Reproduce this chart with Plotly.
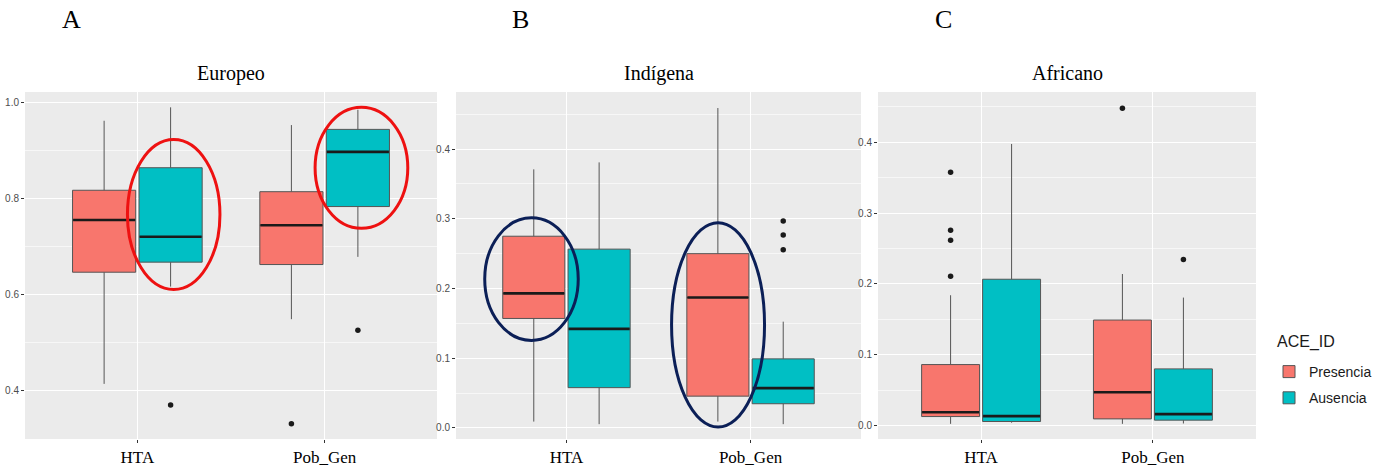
import plotly.graph_objects as go

categories = ["HTA", "Pob_Gen"]
groups = ["Presencia", "Ausencia"]
panel_titles = ["Europeo", "Indígena", "Africano"]
panel_letters = ["A", "B", "C"]
legend_title = "ACE_ID"

# ---- Europeo (A) ----
eur_pre_low = [0.413, 0.548]
eur_pre_q1 = [0.646, 0.662]
eur_pre_med = [0.755, 0.744]
eur_pre_q3 = [0.817, 0.814]
eur_pre_high = [0.962, 0.953]
eur_aus_low = [0.616, 0.678]
eur_aus_q1 = [0.667, 0.783]
eur_aus_med = [0.720, 0.897]
eur_aus_q3 = [0.864, 0.944]
eur_aus_high = [0.990, 0.985]
eur_out_pre_x = ["Pob_Gen"]
eur_out_pre_y = [0.330]
eur_out_aus_x = ["HTA", "Pob_Gen"]
eur_out_aus_y = [0.369, 0.525]

# ---- Indígena (B) ----
ind_pre_low = [0.009, 0.009]
ind_pre_q1 = [0.157, 0.0455]
ind_pre_med = [0.193, 0.187]
ind_pre_q3 = [0.275, 0.250]
ind_pre_high = [0.371, 0.459]
ind_aus_low = [0.0053, 0.0053]
ind_aus_q1 = [0.0577, 0.0346]
ind_aus_med = [0.142, 0.057]
ind_aus_q3 = [0.2565, 0.099]
ind_aus_high = [0.381, 0.1524]
ind_out_pre_x = []
ind_out_pre_y = []
ind_out_aus_x = ["Pob_Gen", "Pob_Gen", "Pob_Gen"]
ind_out_aus_y = [0.2967, 0.2766, 0.2555]

# ---- Africano (C) ----
afr_pre_low = [0.0024, 0.0024]
afr_pre_q1 = [0.0127, 0.0094]
afr_pre_med = [0.0187, 0.0471]
afr_pre_q3 = [0.0861, 0.149]
afr_pre_high = [0.184, 0.214]
afr_aus_low = [0.004, 0.0029]
afr_aus_q1 = [0.0057, 0.0076]
afr_aus_med = [0.0133, 0.0161]
afr_aus_q3 = [0.2066, 0.080]
afr_aus_high = [0.3976, 0.1807]
afr_out_pre_x = ["HTA", "HTA", "HTA", "HTA", "Pob_Gen"]
afr_out_pre_y = [0.3577, 0.2758, 0.2617, 0.2109, 0.448]
afr_out_aus_x = ["Pob_Gen"]
afr_out_aus_y = [0.2343]

# Highlight ellipses (category index / data units)
eur_ell_x0 = [-0.053, 0.949]
eur_ell_x1 = [0.441, 1.444]
eur_ell_y0 = [0.610, 0.7375]
eur_ell_y1 = [0.923, 0.990]
ind_ell_x0 = [-0.444, 0.571]
ind_ell_x1 = [0.064, 1.076]
ind_ell_y0 = [0.1255, 0.0011]
ind_ell_y1 = [0.3014, 0.2943]

colors = {"Presencia": "#F8766D", "Ausencia": "#00BFC4"}

panels = [
    dict(pre=(eur_pre_low, eur_pre_q1, eur_pre_med, eur_pre_q3, eur_pre_high),
         aus=(eur_aus_low, eur_aus_q1, eur_aus_med, eur_aus_q3, eur_aus_high),
         out_pre=(eur_out_pre_x, eur_out_pre_y), out_aus=(eur_out_aus_x, eur_out_aus_y),
         yrange=[0.298, 1.022], dtick=0.2, minor=0.1, domain=[25, 437], medw=62),
    dict(pre=(ind_pre_low, ind_pre_q1, ind_pre_med, ind_pre_q3, ind_pre_high),
         aus=(ind_aus_low, ind_aus_q1, ind_aus_med, ind_aus_q3, ind_aus_high),
         out_pre=(ind_out_pre_x, ind_out_pre_y), out_aus=(ind_out_aus_x, ind_out_aus_y),
         yrange=[-0.016, 0.482], dtick=0.1, minor=0.05, domain=[456, 861], medw=61),
    dict(pre=(afr_pre_low, afr_pre_q1, afr_pre_med, afr_pre_q3, afr_pre_high),
         aus=(afr_aus_low, afr_aus_q1, afr_aus_med, afr_aus_q3, afr_aus_high),
         out_pre=(afr_out_pre_x, afr_out_pre_y), out_aus=(afr_out_aus_x, afr_out_aus_y),
         yrange=[-0.019, 0.471], dtick=0.1, minor=0.05, domain=[878, 1256], medw=57),
]

W, H = 1385, 470
fig = go.Figure()
layout = {}
annotations = []
shapes = []

for i, p in enumerate(panels):
    sfx = "" if i == 0 else str(i + 1)
    xa, ya = "x" + sfx, "y" + sfx
    for g, key in (("Presencia", "pre"), ("Ausencia", "aus")):
        lo, q1, med, q3, hi = p[key]
        fig.add_trace(go.Box(
            x=categories, q1=q1, median=med, q3=q3, lowerfence=lo, upperfence=hi,
            name=g, legendgroup=g, showlegend=(i == 0), offsetgroup=g,
            fillcolor=colors[g], line=dict(color="#555555", width=1),
            whiskerwidth=0, boxpoints=False, xaxis=xa, yaxis=ya, hoverinfo="skip"))
    for g, key in (("Presencia", "pre"), ("Ausencia", "aus")):
        med = p[key][2]
        fig.add_trace(go.Scatter(
            x=categories, y=med, mode="markers", offsetgroup=g, showlegend=False,
            marker=dict(symbol="line-ew", size=p["medw"] / 1.4,
                        line=dict(color="#1a1a1a", width=2.6)),
            xaxis=xa, yaxis=ya, hoverinfo="skip"))
    for g, key in (("Presencia", "out_pre"), ("Ausencia", "out_aus")):
        ox, oy = p[key]
        fig.add_trace(go.Scatter(
            x=ox, y=oy, mode="markers", offsetgroup=g, showlegend=False,
            marker=dict(symbol="circle", size=5.5, color="#1a1a1a"),
            xaxis=xa, yaxis=ya, hoverinfo="skip"))

    d0, d1 = p["domain"]
    layout["xaxis" + sfx] = dict(
        domain=[d0 / W, d1 / W], anchor=ya, type="category", range=[-0.6, 1.6],
        showgrid=True, gridcolor="white", gridwidth=1.1, zeroline=False,
        ticks="outside", ticklen=3, tickcolor="#333333",
        tickfont=dict(family="Liberation Serif", size=17, color="black"),
        showline=False)
    layout["yaxis" + sfx] = dict(
        domain=[1 - 439 / H, 1 - 92 / H], anchor=xa, range=p["yrange"],
        dtick=p["dtick"], tick0=0, tickformat=".1f",
        showgrid=True, gridcolor="white", gridwidth=1.1, zeroline=False,
        minor=dict(dtick=p["minor"], tick0=0, showgrid=True, gridcolor="#f7f7f7", gridwidth=0.6),
        ticks="outside", ticklen=3, tickcolor="#333333",
        tickfont=dict(family="Liberation Sans", size=10, color="#4d4d4d"),
        showline=False)
    annotations.append(dict(
        text=panel_titles[i], xref="paper", yref="paper", x=(d0 + d1) / 2 / W,
        y=1 - 73 / H, xanchor="center", yanchor="middle", showarrow=False,
        font=dict(family="Liberation Serif", size=20, color="black")))

letter_x = [71, 520, 943]
letter_cut = [None, 31, 28]   # the source image crops the lower part of B and C
for L, lx in zip(panel_letters, letter_x):
    annotations.append(dict(
        text=L, xref="paper", yref="paper", x=lx / W, y=1 - 3 / H,
        xanchor="center", yanchor="top", showarrow=False,
        font=dict(family="Liberation Serif", size=26, color="black")))
for lx, cut in zip(letter_x, letter_cut):
    if cut is None:
        continue
    annotations.append(dict(
        text=" ", xref="paper", yref="paper", x=lx / W, y=1 - cut / H,
        xanchor="center", yanchor="top", showarrow=False, width=30, height=10,
        borderpad=0, bgcolor="white", font=dict(size=4)))

annotations.append(dict(
    text=legend_title, xref="paper", yref="paper", x=1275 / W, y=1 - 342 / H,
    xanchor="left", yanchor="middle", showarrow=False,
    font=dict(family="Liberation Sans", size=16, color="#1a1a1a")))

for x0, x1, y0, y1 in zip(eur_ell_x0, eur_ell_x1, eur_ell_y0, eur_ell_y1):
    shapes.append(dict(type="circle", xref="x", yref="y", x0=x0, x1=x1, y0=y0, y1=y1,
                       line=dict(color="#ee1111", width=3), layer="above"))
for x0, x1, y0, y1 in zip(ind_ell_x0, ind_ell_x1, ind_ell_y0, ind_ell_y1):
    shapes.append(dict(type="circle", xref="x2", yref="y2", x0=x0, x1=x1, y0=y0, y1=y1,
                       line=dict(color="#0b1f57", width=3), layer="above"))

fig.update_layout(
    width=W, height=H, margin=dict(l=0, r=0, t=0, b=0),
    paper_bgcolor="white", plot_bgcolor="#EBEBEB",
    boxmode="group", boxgap=0.29, boxgroupgap=0.05,
    scattermode="group", scattergap=0.29,
    annotations=annotations, shapes=shapes,
    legend=dict(
        font=dict(family="Liberation Sans", size=14, color="#1a1a1a"),
        x=1269 / W, y=1 - 356 / H, xanchor="left", yanchor="top",
        bgcolor="rgba(0,0,0,0)", tracegroupgap=5),
    **layout)

fig.write_html("out.html")
